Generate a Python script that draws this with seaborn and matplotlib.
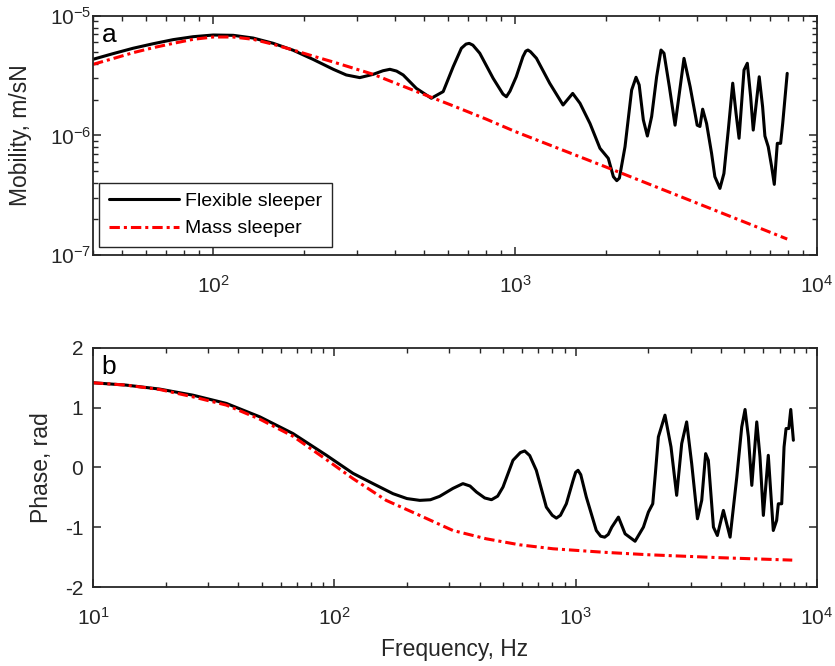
import numpy as np
import pandas as pd
import matplotlib
matplotlib.use("Agg")
import matplotlib.pyplot as plt
import seaborn as sns
from matplotlib.ticker import LogLocator, LogFormatterMathtext, NullFormatter, FixedLocator

# ---------------- data ----------------
# (a) Mobility, flexible sleeper
f_flex_mob = [40, 46.6, 54.3, 63.3, 73.7, 85.9, 100, 116.5, 135.6, 158, 184, 214, 250,
              276, 306, 339, 365, 385, 405, 426, 471, 528, 578, 624, 664, 688, 705, 725,
              764, 846, 912, 936, 962, 1009, 1062, 1085, 1103, 1125, 1177, 1302, 1442,
              1552, 1641, 1771, 1911, 2036, 2117,
              2172, 2216, 2313, 2433, 2516, 2577, 2660, 2743, 2834, 2944, 3044, 3114,
              3244, 3388, 3500, 3627, 3801, 4011, 4096, 4182, 4309, 4476, 4590, 4771,
              4918, 5085, 5260, 5395, 5520, 5733, 5879, 6030, 6150, 6438, 6606, 6723,
              6896, 7078, 7222, 7390, 7580, 7700, 7970]
mob_flex = [4.34e-6, 4.84e-6, 5.37e-6, 5.86e-6, 6.34e-6, 6.71e-6, 6.93e-6, 6.89e-6,
            6.54e-6, 5.91e-6, 5.17e-6, 4.34e-6, 3.58e-6, 3.21e-6, 3.05e-6, 3.25e-6,
            3.48e-6, 3.58e-6, 3.46e-6, 3.21e-6, 2.48e-6, 2.05e-6, 2.33e-6, 3.77e-6,
            5.37e-6, 5.82e-6, 5.90e-6, 5.70e-6,
            4.88e-6, 3.01e-6, 2.22e-6, 2.11e-6, 2.35e-6, 3.10e-6, 4.57e-6, 5.08e-6,
            5.19e-6, 5.02e-6, 4.43e-6, 2.74e-6,
            1.80e-6, 2.25e-6, 1.86e-6, 1.26e-6, 7.81e-7, 6.44e-7, 4.52e-7, 4.19e-7,
            4.4e-7, 8.05e-7, 2.40e-6, 3.07e-6, 2.65e-6, 1.35e-6, 9.9e-7, 1.44e-6,
            3.10e-6, 5.19e-6, 4.88e-6, 2.56e-6, 1.22e-6, 2.25e-6, 4.42e-6, 2.56e-6,
            1.22e-6, 1.19e-6, 1.66e-6, 1.26e-6, 7.1e-7, 4.52e-7, 3.61e-7, 4.81e-7,
            1.11e-6, 2.74e-6, 1.53e-6, 9.48e-7, 3.53e-6, 4.02e-6, 2.11e-6, 1.11e-6,
            3.10e-6, 1.74e-6, 9.9e-7, 8.05e-7, 5.48e-7, 3.9e-7, 8.6e-7, 8.6e-7,
            1.26e-6, 3.31e-6]

# (a) Mobility, mass sleeper
f_mass_mob = [40, 46.6, 54.3, 63.3, 73.7, 85.9, 100, 116.5, 135.6, 158, 184, 214, 250,
              339, 466, 624, 803, 1000, 1409, 2000, 4000, 7970]
mob_mass = [3.94e-6, 4.40e-6, 4.93e-6, 5.43e-6, 5.90e-6, 6.38e-6, 6.67e-6, 6.67e-6,
            6.38e-6, 5.80e-6, 5.19e-6, 4.62e-6, 4.12e-6, 3.25e-6, 2.36e-6, 1.77e-6,
            1.37e-6, 1.08e-6, 7.7e-7, 5.45e-7, 2.72e-7, 1.36e-7]

# (b) Phase, flexible sleeper
f_flex_ph = [10, 13.7, 18.9, 25.9, 35.7, 49.1, 67.4, 92.7, 119.5, 144.7, 175, 200, 226,
             250, 273, 310, 341, 365, 388, 420, 448, 475, 500, 550, 590, 615, 645, 687,
             756, 800, 832, 865, 915, 976, 1000, 1023, 1050, 1107, 1218,
             1270, 1319, 1365, 1412, 1504, 1603, 1763, 1909, 2002, 2087, 2140, 2202,
             2345, 2484,
             2622, 2751, 2884, 3026, 3197, 3330, 3457, 3547, 3724, 3865, 4095, 4365,
             4654, 4878, 5035, 5198, 5370, 5630, 5806, 5996, 6285, 6592, 6806, 6916,
             7143, 7305, 7447, 7642, 7788, 7984]
ph_flex = [1.418, 1.379, 1.312, 1.211, 1.072, 0.848, 0.568, 0.205, -0.098, -0.27,
           -0.438, -0.52, -0.55, -0.54, -0.483, -0.35, -0.27, -0.31, -0.41, -0.51,
           -0.539, -0.48, -0.327, 0.121, 0.25, 0.277, 0.2, -0.047,
           -0.663, -0.8, -0.847, -0.8, -0.607, -0.215, -0.08, -0.047, -0.12, -0.494,
           -1.054, -1.15, -1.166, -1.12, -0.998,
           -0.83, -1.11, -1.234, -0.998, -0.746, -0.607, -0.1, 0.512, 0.876, 0.344,
           -0.466, 0.4, 0.763, 0.065, -0.858, -0.55, 0.232, 0.121, -0.998, -1.138,
           -0.718, -1.166, -0.16, 0.679, 0.971, 0.512, -0.299, 0.763, 0.176, -0.802,
           0.204, -1.054, -0.886, -0.607, -0.607, 0.344, 0.652, 0.652, 0.971, 0.456]

# (b) Phase, mass sleeper
f_mass_ph = [10, 13.7, 18.9, 25.9, 35.7, 49.1, 67.4, 92.7, 119.5, 164, 226, 310, 426,
             586, 806, 1300, 2000, 4000, 7900]
ph_mass = [1.418, 1.379, 1.305, 1.183, 1.044, 0.809, 0.523, 0.132, -0.186, -0.55,
           -0.802, -1.054, -1.193, -1.294, -1.36, -1.418, -1.46, -1.51, -1.55]

labels = ["Flexible sleeper", "Mass sleeper"]

# ---------------- style ----------------
sns.set_style("ticks")
dark = "#262626"
plt.rcParams.update({
    "font.family": ["Liberation Sans", "DejaVu Sans"],
    "mathtext.fontset": "custom",
    "mathtext.rm": "Liberation Sans",
    "mathtext.it": "Liberation Sans:italic",
    "mathtext.bf": "Liberation Sans:bold",
    "axes.unicode_minus": False,
    "xtick.direction": "in",
    "ytick.direction": "in",
    "axes.edgecolor": dark,
    "xtick.color": dark,
    "ytick.color": dark,
    "axes.labelcolor": dark,
    "text.color": dark,
})

fig = plt.figure(figsize=(8.35, 6.66), dpi=100)
ax1 = fig.add_axes([0.1114, 0.6171, 0.867, 0.3589])
ax2 = fig.add_axes([0.1114, 0.1186, 0.867, 0.3589])

lw = 2.2
dashdot = (0, (3.4, 1.3, 1.0, 1.3))
red = "#ff0000"

df_a1 = pd.DataFrame({"f": f_flex_mob, "v": mob_flex})
df_a2 = pd.DataFrame({"f": f_mass_mob, "v": mob_mass})
df_b1 = pd.DataFrame({"f": f_flex_ph, "v": ph_flex})
df_b2 = pd.DataFrame({"f": f_mass_ph, "v": ph_mass})

sns.lineplot(data=df_a1, x="f", y="v", ax=ax1, color="black", lw=lw,
             estimator=None, sort=False, label=labels[0])
sns.lineplot(data=df_a2, x="f", y="v", ax=ax1, color=red, lw=lw,
             estimator=None, sort=False, label=labels[1], linestyle=dashdot)
sns.lineplot(data=df_b1, x="f", y="v", ax=ax2, color="black", lw=lw,
             estimator=None, sort=False, legend=False)
sns.lineplot(data=df_b2, x="f", y="v", ax=ax2, color=red, lw=lw,
             estimator=None, sort=False, legend=False, linestyle=dashdot)

# ---------------- axes ----------------
tick_fs = 15
label_fs = 16.5
for ax in (ax1, ax2):
    ax.set_xscale("log")
    for s in ax.spines.values():
        s.set_visible(True)
        s.set_linewidth(1.3)
        s.set_color(dark)
    ax.tick_params(which="both", direction="in", top=True, right=True,
                   labelsize=tick_fs, colors=dark)
    ax.tick_params(which="major", length=6, width=1.1)
    ax.tick_params(which="minor", length=3.5, width=1.0)
    ax.xaxis.set_major_locator(LogLocator(base=10, numticks=10))
    ax.xaxis.set_minor_locator(LogLocator(base=10, subs=np.arange(2, 10), numticks=10))
    ax.xaxis.set_major_formatter(LogFormatterMathtext())
    ax.xaxis.set_minor_formatter(NullFormatter())
    ax.tick_params(axis="x", which="major", pad=14)

ax1.set_yscale("log")
ax1.set_xlim(40, 1e4)
ax1.set_ylim(1e-7, 1e-5)
ax1.yaxis.set_major_locator(LogLocator(base=10, numticks=10))
ax1.yaxis.set_minor_locator(LogLocator(base=10, subs=np.arange(2, 10), numticks=10))
ax1.yaxis.set_major_formatter(LogFormatterMathtext())
ax1.yaxis.set_minor_formatter(NullFormatter())
ax1.tick_params(axis="y", which="major", pad=1)

ax2.set_xlim(10, 1e4)
ax2.set_ylim(-2, 2)
ax2.yaxis.set_major_locator(FixedLocator([-2, -1, 0, 1, 2]))
ax2.tick_params(axis="y", which="major", pad=7)

ax1.set_xlabel("")
ax1.set_ylabel("Mobility, m/sN", fontsize=label_fs)
ax1.yaxis.set_label_coords(-0.084, 0.5)
ax2.set_ylabel("Phase, rad", fontsize=label_fs)
ax2.yaxis.set_label_coords(-0.055, 0.5)
ax2.set_xlabel("Frequency, Hz", fontsize=label_fs)
ax2.xaxis.set_label_coords(0.5, -0.212)
ax2.xaxis.label.set_va("top")

ax1.text(0.012, 0.97, "a", transform=ax1.transAxes, fontsize=19, color="black",
         ha="left", va="top")
ax2.text(0.012, 0.97, "b", transform=ax2.transAxes, fontsize=19, color="black",
         ha="left", va="top")

leg = ax1.legend(loc="lower left", bbox_to_anchor=(0.008, 0.033), borderaxespad=0,
                 frameon=True, fancybox=False, framealpha=1, edgecolor=dark,
                 handlelength=3.6, fontsize=14, borderpad=0.5, labelspacing=0.5,
                 handletextpad=0.35)
leg.get_frame().set_linewidth(1.0)
for t in leg.get_texts():
    t.set_color("black")

fig.savefig("out.png", dpi=100)
